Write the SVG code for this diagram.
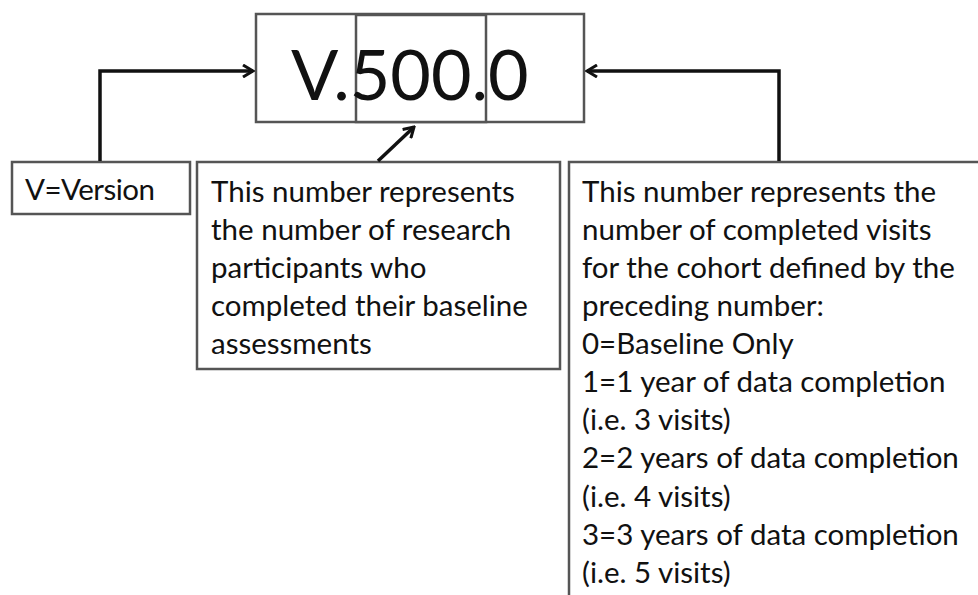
<svg xmlns="http://www.w3.org/2000/svg" width="978" height="595" viewBox="0 0 978 595">
<defs>
<style>
.box{fill:#fff;stroke:#555;stroke-width:2.5}
.conn{fill:none;stroke:#111;stroke-width:3.5}
.t{font-family:Lato,"Liberation Sans",sans-serif;font-size:29.5px;fill:#111}
.big{font-family:Lato,"Liberation Sans",sans-serif;font-size:70px;fill:#111}
</style>
<marker id="ah" viewBox="0 0 14 14" refX="12" refY="7" markerWidth="14" markerHeight="14" markerUnits="userSpaceOnUse" orient="auto">
<path d="M2,1 L12,7 L2,13" fill="none" stroke="#111" stroke-width="3"/>
</marker>
</defs>
<rect width="978" height="595" fill="#fff"/>
<g id="version-box">
<rect class="box" x="256" y="14" width="328" height="108"/>
<rect class="box" x="356" y="15" width="130" height="107"/>
<text class="big" x="291" y="100">V.500.0</text>
</g>
<g id="v-note">
<rect class="box" x="12" y="162" width="178" height="52"/>
<text class="t" x="25" y="200" textLength="130">V=Version</text>
</g>
<g id="participants-note">
<rect class="box" x="197" y="162" width="363" height="207"/>
<text class="t"><tspan x="211" y="202">This number represents</tspan><tspan x="211" y="240">the number of research</tspan><tspan x="211" y="278">participants who</tspan><tspan x="211" y="316">completed their baseline</tspan><tspan x="211" y="354">assessments</tspan></text>
</g>
<g id="visits-note">
<rect class="box" x="569" y="162" width="420" height="440"/>
<text class="t"><tspan x="582" y="202">This number represents the</tspan><tspan x="582" y="240">number of completed visits</tspan><tspan x="582" y="278">for the cohort defined by the</tspan><tspan x="582" y="316">preceding number:</tspan><tspan x="582" y="354">0=Baseline Only</tspan><tspan x="582" y="392">1=1 year of data completion</tspan><tspan x="582" y="430">(i.e. 3 visits)</tspan><tspan x="582" y="468">2=2 years of data completion</tspan><tspan x="582" y="507">(i.e. 4 visits)</tspan><tspan x="582" y="545">3=3 years of data completion</tspan><tspan x="582" y="583">(i.e. 5 visits)</tspan></text>
</g>
<g id="connectors">
<path class="conn" d="M100,161 V71 H253" marker-end="url(#ah)"/>
<path class="conn" d="M378,161 L414,127" marker-end="url(#ah)"/>
<path class="conn" d="M779,161 V71 H587" marker-end="url(#ah)"/>
</g>
</svg>
